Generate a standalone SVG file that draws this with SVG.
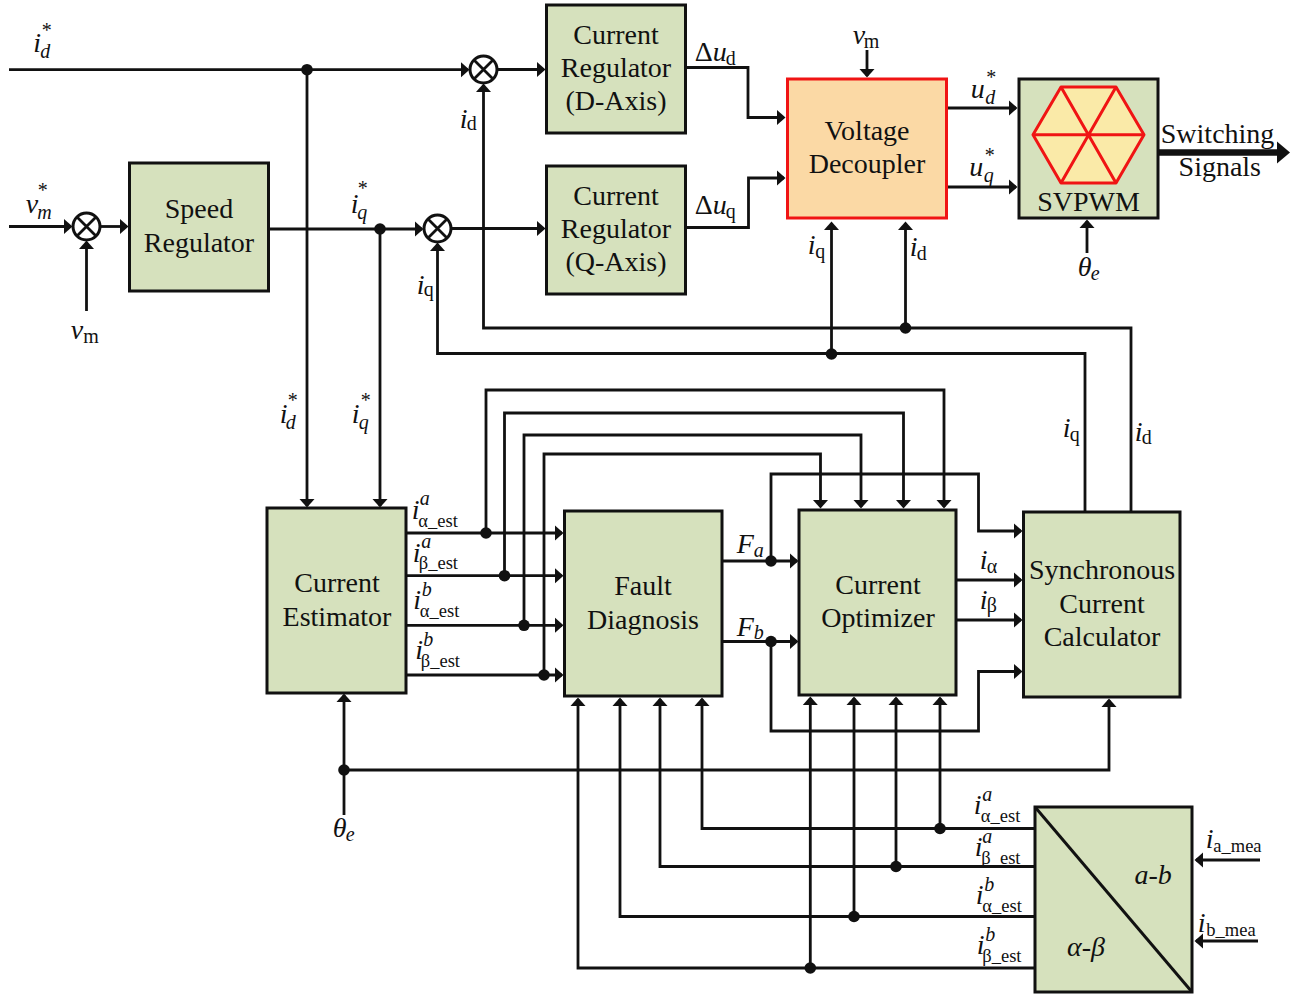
<svg xmlns="http://www.w3.org/2000/svg" width="1291" height="996" viewBox="0 0 1291 996">
<style>
text{font-family:"Liberation Serif","Times New Roman",serif;fill:#111}
.t{font-size:28px;text-anchor:middle}
.m{font-size:28px;font-style:italic}
.d{font-size:28px}
.s{font-size:20px;font-style:italic}
.r{font-size:20px;font-style:normal}
.e{font-size:18.5px;font-style:normal}
.u{font-size:20px;font-style:normal}
.b{fill:#d6e1bd;stroke:#111;stroke-width:3}
.c path{fill:none;stroke:#111;stroke-width:2.800;stroke-linejoin:miter}
.c path.a{marker-end:url(#ah)}
.c circle{fill:#111;stroke:none}
.x circle{fill:#fff;stroke:#111;stroke-width:3}
.x path{fill:none;stroke:#111;stroke-width:2.800}
</style>
<defs>
<marker id="ah" markerUnits="userSpaceOnUse" markerWidth="10" markerHeight="16" refX="7" refY="8" orient="auto"><path d="M0,0.500 L8.500,8 L0,15.500 Z" fill="#111"/></marker>
<marker id="ahb" markerUnits="userSpaceOnUse" markerWidth="13" markerHeight="23" refX="3" refY="11.500" orient="auto"><path d="M0,0.500 L13,11.500 L0,22.500 Z" fill="#111"/></marker>
</defs>
<rect width="1291" height="996" fill="#fff"/>
<g id="connectors" class="c">
<path class="a" d="M9,69.700H468"/>
<path class="a" d="M307,69.700V506"/>
<path class="a" d="M497,69.500H544"/>
<path class="a" d="M9,226.500H71"/>
<path class="a" d="M100,226.500H127"/>
<path class="a" d="M86.500,311V242"/>
<path class="a" d="M269,229H422"/>
<path class="a" d="M380,229V506"/>
<path class="a" d="M451,228.500H544"/>
<path class="a" d="M1131,511V328H483.500V85"/>
<path class="a" d="M905.500,328V223"/>
<path class="a" d="M1085,511V353.500H437.500V244"/>
<path class="a" d="M831.500,354V223"/>
<path class="a" d="M686,67.500H748V117.500H784"/>
<path class="a" d="M686,227.500H748.500V178H784"/>
<path class="a" d="M867,50V76"/>
<path class="a" d="M947,108H1016"/>
<path class="a" d="M947,187H1016"/>
<path class="a" d="M1087,253V221"/>
<path d="M1158,152.500H1280" style="stroke-width:6.500;marker-end:url(#ahb)"/>
<path class="a" d="M406,533H562"/>
<path class="a" d="M406,575.700H562"/>
<path class="a" d="M406,625.300H562"/>
<path class="a" d="M406,675H562"/>
<path class="a" d="M486,533V390H944V507"/>
<path class="a" d="M504.500,575.700V413H903.500V507"/>
<path class="a" d="M524,625.300V435H861V507"/>
<path class="a" d="M544,675V454H820.500V507"/>
<path class="a" d="M722,561H797"/>
<path class="a" d="M722,641.500H797"/>
<path class="a" d="M771,561V474H978.500V531H1021"/>
<path class="a" d="M771,641.500V731H978.500V671.500H1021"/>
<path class="a" d="M956,580H1021"/>
<path class="a" d="M956,620H1021"/>
<path class="a" d="M1035,828.500H702V699"/>
<path class="a" d="M940,828.500V698"/>
<path class="a" d="M1035,866.500H660V699"/>
<path class="a" d="M896,866.500V698"/>
<path class="a" d="M1035,916.500H620V699"/>
<path class="a" d="M854,916.500V698"/>
<path class="a" d="M1035,968H578V699"/>
<path class="a" d="M810.300,968V698"/>
<path class="a" d="M344,815V695"/>
<path class="a" d="M344,770H1109V700"/>
<path class="a" d="M1260,860H1196"/>
<path class="a" d="M1258,941H1196"/>
<circle cx="307" cy="69.700" r="5.800"/>
<circle cx="380" cy="229" r="5.800"/>
<circle cx="905.500" cy="328" r="5.800"/>
<circle cx="831.500" cy="354" r="5.800"/>
<circle cx="486" cy="533" r="5.800"/>
<circle cx="504.500" cy="575.700" r="5.800"/>
<circle cx="524" cy="625.300" r="5.800"/>
<circle cx="544" cy="675" r="5.800"/>
<circle cx="771" cy="561" r="5.800"/>
<circle cx="771" cy="641.500" r="5.800"/>
<circle cx="940" cy="828.500" r="5.800"/>
<circle cx="896" cy="866.500" r="5.800"/>
<circle cx="854" cy="916.500" r="5.800"/>
<circle cx="810.300" cy="968" r="5.800"/>
<circle cx="344" cy="770" r="5.800"/>
</g>
<g id="sum-speed" class="x"><circle cx="86.500" cy="226.500" r="13.500"/><path d="M77,217L96,236M96,217L77,236"/></g>
<g id="sum-d" class="x"><circle cx="483.500" cy="69.500" r="13.500"/><path d="M474,60L493,79M493,60L474,79"/></g>
<g id="sum-q" class="x"><circle cx="437.500" cy="228.500" r="13.500"/><path d="M428,219L447,238M447,219L428,238"/></g>
<g id="speed-regulator"><rect class="b" x="129.500" y="163" width="139" height="128"/><text class="t" x="199" y="218">Speed</text><text class="t" x="199" y="251.500">Regulator</text></g>
<g id="current-regulator-d"><rect class="b" x="546.500" y="5" width="139" height="128"/><text class="t" x="616" y="44">Current</text><text class="t" x="616" y="77">Regulator</text><text class="t" x="616" y="110">(D-Axis)</text></g>
<g id="current-regulator-q"><rect class="b" x="546.500" y="166" width="139" height="128"/><text class="t" x="616" y="205">Current</text><text class="t" x="616" y="238">Regulator</text><text class="t" x="616" y="271">(Q-Axis)</text></g>
<g id="voltage-decoupler"><rect x="787.500" y="79" width="159" height="139" fill="#fbd9a5" stroke="#f01414" stroke-width="3"/><text class="t" x="867" y="140">Voltage</text><text class="t" x="867" y="173">Decoupler</text></g>
<g id="svpwm"><rect class="b" x="1019" y="79" width="139" height="139"/>
<path d="M1061,87H1116L1144,134.700L1116,183H1061L1033,134.700Z" fill="#faeaa8" stroke="#f01414" stroke-width="3" stroke-linejoin="round"/>
<path d="M1061,87L1116,183M1116,87L1061,183M1033,134.700H1144" fill="none" stroke="#f01414" stroke-width="3"/>
<text class="t" x="1088.500" y="211">SVPWM</text></g>
<g id="current-estimator"><rect class="b" x="267" y="508" width="139" height="185"/><text class="t" x="337" y="592">Current</text><text class="t" x="337" y="626">Estimator</text></g>
<g id="fault-diagnosis"><rect class="b" x="564.500" y="511" width="157.500" height="185"/><text class="t" x="643" y="595">Fault</text><text class="t" x="643" y="629">Diagnosis</text></g>
<g id="current-optimizer"><rect class="b" x="799" y="510" width="157" height="185"/><text class="t" x="878" y="593.500">Current</text><text class="t" x="878" y="627">Optimizer</text></g>
<g id="synchronous-current-calculator"><rect class="b" x="1023.500" y="512" width="156.500" height="185"/><text class="t" x="1102" y="579">Synchronous</text><text class="t" x="1102" y="612.500">Current</text><text class="t" x="1102" y="646">Calculator</text></g>
<g id="ab-transform"><rect class="b" x="1035" y="807" width="157" height="185"/><path d="M1035,807L1192,992" fill="none" stroke="#111" stroke-width="3"/><text class="m" x="1134.500" y="884">a-b</text><text class="m" x="1067" y="956">α-β</text></g>
<g id="labels" transform="translate(-1.200,0)">
<text class="m" x="34.500" y="52">i<tspan class="s" x="41.500" y="58">d</tspan><tspan class="u" x="43" y="37">*</tspan></text>
<text class="m" x="27" y="213">v<tspan class="s" x="38.500" y="219">m</tspan><tspan class="u" x="39" y="197">*</tspan></text>
<text class="m" x="352" y="213">i<tspan class="s" x="358.500" y="219">q</tspan><tspan class="u" x="359" y="195">*</tspan></text>
<text class="m" x="461" y="128">i<tspan class="r" x="468" y="130">d</tspan></text>
<text class="m" x="418" y="294">i<tspan class="r" x="425" y="296">q</tspan></text>
<text class="m" x="72" y="339">v<tspan class="r" x="84.500" y="343">m</tspan></text>
<text class="d" x="696" y="61">Δ<tspan class="m">u</tspan><tspan class="r" x="727" y="65">d</tspan></text>
<text class="d" x="696" y="214">Δ<tspan class="m">u</tspan><tspan class="r" x="727" y="218">q</tspan></text>
<text class="m" x="854" y="44">v<tspan class="r" x="865" y="48">m</tspan></text>
<text class="m" x="809" y="254">i<tspan class="r" x="816.500" y="258">q</tspan></text>
<text class="m" x="911" y="256">i<tspan class="r" x="918" y="260">d</tspan></text>
<text class="m" x="972" y="98">u<tspan class="s" x="986.500" y="104">d</tspan><tspan class="u" x="987.500" y="84">*</tspan></text>
<text class="m" x="970.500" y="176">u<tspan class="s" x="985" y="182">q</tspan><tspan class="u" x="986" y="162">*</tspan></text>
<text class="m" x="1079" y="276">θ<tspan class="s" x="1092" y="280">e</tspan></text>
<text class="d" x="1162" y="143">Switching</text>
<text class="t" x="1221" y="176">Signals</text>
<text class="m" x="413" y="518.500">i<tspan class="s" x="421" y="505">a</tspan><tspan class="e" x="419.500" y="526.500">α_est</tspan></text>
<text class="m" x="414" y="561.500">i<tspan class="s" x="422.500" y="548">a</tspan><tspan class="e" x="420" y="569">β_est</tspan></text>
<text class="m" x="414.500" y="608.500">i<tspan class="s" x="423" y="596">b</tspan><tspan class="e" x="421" y="616.500">α_est</tspan></text>
<text class="m" x="416.500" y="658.500">i<tspan class="s" x="424.500" y="646">b</tspan><tspan class="e" x="422" y="666.500">β_est</tspan></text>
<text class="m" x="738" y="553">F<tspan class="s" x="755" y="557">a</tspan></text>
<text class="m" x="738" y="636">F<tspan class="s" x="755" y="639">b</tspan></text>
<text class="m" x="981" y="569">i<tspan class="r" x="988" y="573">α</tspan></text>
<text class="m" x="981" y="609">i<tspan class="r" x="988" y="612">β</tspan></text>
<text class="m" x="1064" y="437">i<tspan class="r" x="1071" y="441">q</tspan></text>
<text class="m" x="1136" y="441">i<tspan class="r" x="1143" y="444">d</tspan></text>
<text class="m" x="281" y="423">i<tspan class="s" x="287" y="429">d</tspan><tspan class="u" x="289" y="407">*</tspan></text>
<text class="m" x="353" y="423">i<tspan class="s" x="360" y="429">q</tspan><tspan class="u" x="362" y="407">*</tspan></text>
<text class="m" x="334" y="837">θ<tspan class="s" x="347" y="841">e</tspan></text>
<text class="m" x="975" y="813.500">i<tspan class="s" x="983.500" y="801">a</tspan><tspan class="e" x="982" y="821.500">α_est</tspan></text>
<text class="m" x="976" y="855.500">i<tspan class="s" x="983.500" y="843">a</tspan><tspan class="e" x="982.500" y="863.500">β_est</tspan></text>
<text class="m" x="977" y="903.500">i<tspan class="s" x="985.500" y="891">b</tspan><tspan class="e" x="983.500" y="911.500">α_est</tspan></text>
<text class="m" x="978" y="953.500">i<tspan class="s" x="986.500" y="941">b</tspan><tspan class="e" x="983.500" y="961.500">β_est</tspan></text>
<text class="m" x="1207" y="848">i<tspan class="e" x="1214.500" y="852">a_mea</tspan></text>
<text class="m" x="1199" y="932">i<tspan class="e" x="1207.500" y="936">b_mea</tspan></text>
</g>
</svg>
